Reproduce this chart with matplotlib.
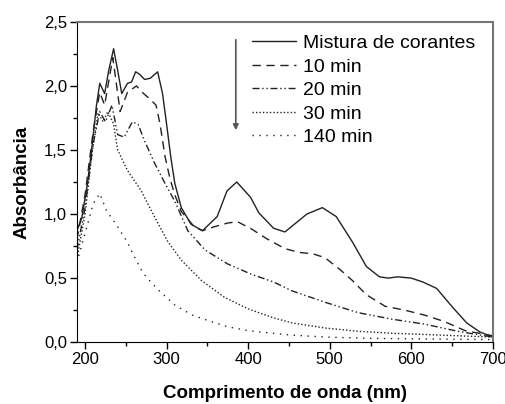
import matplotlib
matplotlib.use("Agg")
import matplotlib.pyplot as plt
from matplotlib.ticker import MultipleLocator, FuncFormatter

plt.rcParams['font.family'] = ['Liberation Sans', 'DejaVu Sans']

# Mistura de corantes (solid)
wl_mix = [190, 196, 203, 208, 214, 218, 224, 229, 235, 240, 245, 252, 257, 262, 267, 273,
          280, 289, 295, 300, 305, 310, 318, 330, 344, 362, 374, 386, 403, 413, 431, 445,
          472, 491, 508, 528, 545, 561, 572, 583, 600, 614, 631, 651, 668, 684, 700]
abs_mix = [0.87, 0.97, 1.24, 1.50, 1.85, 2.02, 1.94, 2.12, 2.29, 2.12, 1.94, 2.02, 2.03, 2.11, 2.09, 2.05,
           2.06, 2.11, 1.94, 1.70, 1.45, 1.24, 1.05, 0.92, 0.87, 0.98, 1.18, 1.25, 1.13, 1.01, 0.89, 0.86,
           1.00, 1.05, 0.98, 0.78, 0.59, 0.51, 0.50, 0.51, 0.50, 0.47, 0.42, 0.27, 0.15, 0.08, 0.04]

# 10 min (dashed)
wl_10 = [190, 200, 210, 218, 224, 234, 243, 252, 263, 270, 279, 287, 292, 298, 304, 310, 318,
         334, 344, 358, 375, 387, 405, 422, 445, 463, 479, 494, 512, 528, 545, 568, 592, 617,
         641, 666, 700]
abs_10 = [0.80, 1.15, 1.65, 1.95, 1.85, 2.22, 1.80, 1.95, 2.00, 1.95, 1.90, 1.85, 1.70, 1.45, 1.28, 1.15, 1.02,
          0.90, 0.87, 0.90, 0.93, 0.94, 0.88, 0.81, 0.73, 0.70, 0.69, 0.66, 0.57, 0.48, 0.37, 0.28, 0.25, 0.21,
          0.16, 0.09, 0.05]

# 20 min (dash-dot-dot)
wl_20 = [190, 200, 210, 218, 225, 233, 240, 248, 258, 265, 273, 285, 298, 310, 326, 347, 375,
         404, 431, 454, 495, 535, 576, 617, 657, 700]
abs_20 = [0.72, 1.05, 1.55, 1.80, 1.72, 1.85, 1.62, 1.60, 1.72, 1.70, 1.57, 1.40, 1.24, 1.10, 0.87, 0.72, 0.61,
          0.53, 0.47, 0.40, 0.31, 0.23, 0.18, 0.14, 0.085, 0.04]

# 30 min (dense dots)
wl_30 = [190, 200, 208, 216, 222, 228, 235, 240, 252, 269, 285, 301, 318, 343, 371, 400, 431,
         454, 495, 535, 576, 617, 657, 700]
abs_30 = [0.65, 1.00, 1.45, 1.79, 1.72, 1.80, 1.70, 1.50, 1.34, 1.18, 0.98, 0.79, 0.64, 0.48, 0.35, 0.26, 0.19,
          0.15, 0.11, 0.085, 0.07, 0.06, 0.05, 0.04]

# 140 min (sparse dots)
wl_140 = [190, 200, 210, 218, 226, 239, 251, 261, 271, 282, 291, 310, 332, 355, 375, 400, 429,
          454, 495, 550, 620, 700]
abs_140 = [0.62, 0.85, 1.08, 1.16, 1.03, 0.91, 0.79, 0.66, 0.54, 0.46, 0.40, 0.29, 0.21, 0.16, 0.12, 0.09, 0.07,
           0.055, 0.04, 0.03, 0.025, 0.02]

labels = ['Mistura de corantes', '10 min', '20 min', '30 min', '140 min']

fig = plt.figure(figsize=(5.06, 4.04), dpi=100)
ax = fig.add_axes([0.152, 0.153, 0.822, 0.793])

c = '#222222'
ax.plot(wl_mix, abs_mix, color=c, lw=1.0, ls='-', label=labels[0])
ax.plot(wl_10, abs_10, color=c, lw=1.0, ls=(0, (6, 4)), label=labels[1])
ax.plot(wl_20, abs_20, color=c, lw=1.0, ls=(0, (5, 2, 1, 2, 1, 2)), label=labels[2])
ax.plot(wl_30, abs_30, color=c, lw=1.0, ls=(0, (1, 1.5)), label=labels[3])
ax.plot(wl_140, abs_140, color=c, lw=1.0, ls=(0, (1, 4)), label=labels[4])

ax.set_xlim(190, 700)
ax.set_ylim(0, 2.5)
ax.xaxis.set_major_locator(MultipleLocator(100))
ax.xaxis.set_minor_locator(MultipleLocator(50))
ax.yaxis.set_major_locator(MultipleLocator(0.5))
ax.yaxis.set_minor_locator(MultipleLocator(0.25))
ax.yaxis.set_major_formatter(FuncFormatter(lambda v, p: f'{v:.1f}'.replace('.', ',')))
ax.tick_params(which='major', direction='out', length=5, width=1, labelsize=12, pad=2)
ax.tick_params(which='minor', direction='out', length=3, width=1)
ax.tick_params(top=False, right=False)
for s in ['top', 'right']:
    ax.spines[s].set_color('#777777')
    ax.spines[s].set_linewidth(1.5)

ax.set_xlabel('Comprimento de onda (nm)', fontsize=13.5, fontweight='bold', labelpad=13)
ax.set_ylabel('Absorbância', fontsize=13.5, fontweight='bold', labelpad=10)

ax.legend(loc='upper left', bbox_to_anchor=(0.42, 0.96), frameon=False, fontsize=14,
          handlelength=2.3, handletextpad=0.35, labelspacing=0.3, borderaxespad=0,
          borderpad=0)

ax.annotate('', xy=(0.382, 0.653), xytext=(0.382, 0.953), xycoords='axes fraction',
            arrowprops=dict(arrowstyle='-|>', color='#555555', lw=1.2, mutation_scale=8))

fig.savefig('out.png', dpi=100)
